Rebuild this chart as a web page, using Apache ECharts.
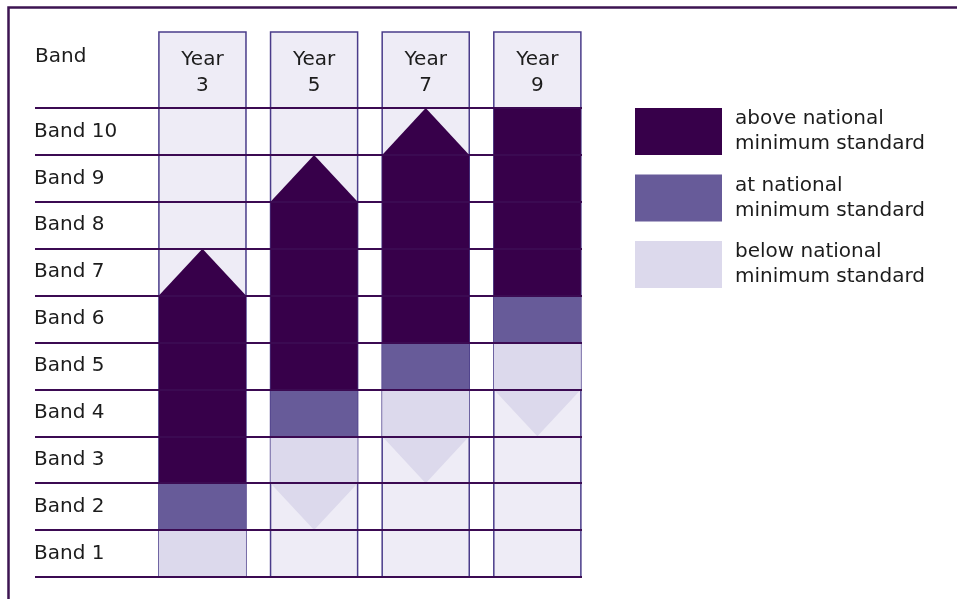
<!DOCTYPE html>
<html>
<head>
<meta charset="utf-8">
<script src="https://cdn.jsdelivr.net/npm/echarts@6/dist/echarts.min.js"></script>
<style>
html,body{margin:0;padding:0;background:#fff;}
#chart{width:957px;height:599px;}
</style>
</head>
<body>
<div id="chart"></div>
<script>
// ---- data ----
const years = ['Year 3', 'Year 5', 'Year 7', 'Year 9'];
const bands = ['Band 1', 'Band 2', 'Band 3', 'Band 4', 'Band 5', 'Band 6', 'Band 7', 'Band 8', 'Band 9', 'Band 10'];
const belowBands = [[0, 1], [2, 3], [3, 4], [4, 5]];
const belowArrowTips = [null, 1, 2, 3];
const atBands = [[1, 2], [3, 4], [4, 5], [5, 6]];
const aboveBands = [[2, 6], [4, 8], [5, 9], [6, 10]];
const aboveArrowTips = [7, 9, 10, null];
const legendNames = ['above national minimum standard', 'at national minimum standard', 'below national minimum standard'];

// ---- style ----
const FONT = 'DejaVu Sans';
const FS = 20;
const TEXT = '#1c1c1c';
const C_ABOVE = '#37004a';
const C_AT = '#675b99';
const C_BELOW = '#dcd9ec';
const C_COL = '#eeecf6';
const C_COLBORDER = '#4a3c8a';
const C_LINE = '#3b0a52';
const HALF = 0.39;
const HEADER_TOP = 11.62;
const HEADER_TEXT = 10.76;

function colX(i) { return i + 1.5; }

function shapeRenderer(ranges, tips, up, color) {
  return function (params, api) {
    const i = params.dataIndex;
    const lo = ranges[i][0], hi = ranges[i][1], tip = tips[i];
    const cx = colX(i);
    let pts;
    if (up) {
      pts = [[cx - HALF, lo], [cx - HALF, hi]];
      if (tip != null) pts.push([cx, tip]);
      pts.push([cx + HALF, hi], [cx + HALF, lo]);
    } else {
      pts = [[cx - HALF, hi], [cx + HALF, hi], [cx + HALF, lo]];
      if (tip != null) pts.push([cx, tip]);
      pts.push([cx - HALF, lo]);
    }
    return {
      type: 'polygon',
      shape: { points: pts.map(p => api.coord(p)) },
      style: { fill: color }
    };
  };
}

const chart = echarts.init(document.getElementById('chart'), null, { renderer: 'canvas' });

const option = {
  animation: false,
  backgroundColor: '#ffffff',
  grid: { left: 35, right: 375, top: 108, bottom: 22, containLabel: false },
  xAxis: { type: 'value', min: 0, max: 4.9, show: false },
  yAxis: [
    {
      type: 'value', min: 0, max: 10, interval: 1, z: 5,
      axisLine: { show: false }, axisTick: { show: false }, axisLabel: { show: false },
      splitLine: { show: true, showMinLine: true, showMaxLine: true, lineStyle: { color: C_LINE, width: 2 } }
    },
    {
      type: 'category', data: bands, boundaryGap: true, position: 'left',
      axisLine: { show: false }, axisTick: { show: false }, splitLine: { show: false },
      axisLabel: { inside: true, margin: -1, fontFamily: FONT, fontSize: FS, color: TEXT },
      name: 'Band', nameLocation: 'end', nameGap: 51,
      nameTextStyle: { align: 'left', verticalAlign: 'middle', fontFamily: FONT, fontSize: FS, color: TEXT }
    }
  ],
  legend: {
    data: legendNames, orient: 'vertical', left: 635, top: 106.5, padding: 0,
    itemWidth: 87, itemHeight: 47, itemGap: 16.5, icon: 'rect', selectedMode: false,
    formatter: n => n.replace(' minimum', '\nminimum'),
    textStyle: { fontFamily: FONT, fontSize: FS, color: TEXT, lineHeight: 25, padding: [0, 0, 0, 8] }
  },
  graphic: [{
    type: 'polyline', z: 10,
    shape: { points: [[957, 7.5], [8.5, 7.5], [8.5, 599]] },
    style: { stroke: '#3d1452', lineWidth: 2.5, fill: null }
  }],
  series: [
    {
      type: 'custom', name: 'columns', z: 1, clip: false,
      data: years.map((y, i) => [colX(i), 0]),
      renderItem: function (params, api) {
        const i = params.dataIndex;
        const cx = colX(i);
        const tl = api.coord([cx - HALF, HEADER_TOP]);
        const br = api.coord([cx + HALF, 0]);
        const tp = api.coord([cx, HEADER_TEXT]);
        return {
          type: 'group',
          children: [
            { type: 'rect', shape: { x: tl[0], y: tl[1], width: br[0] - tl[0], height: br[1] - tl[1] },
              style: { fill: C_COL, stroke: C_COLBORDER, lineWidth: 1.5 } },
            { type: 'text', x: tp[0], y: tp[1],
              style: { text: years[i].replace(' ', '\n'), fontFamily: FONT, fontSize: FS, fill: TEXT,
                       align: 'center', verticalAlign: 'middle', lineHeight: 26 } }
          ]
        };
      }
    },
    {
      type: 'custom', name: legendNames[0], z: 2, clip: false,
      itemStyle: { color: C_ABOVE },
      data: aboveBands.map((b, i) => [colX(i), b[0], b[1]]),
      renderItem: shapeRenderer(aboveBands, aboveArrowTips, true, C_ABOVE)
    },
    {
      type: 'custom', name: legendNames[1], z: 2, clip: false,
      itemStyle: { color: C_AT },
      data: atBands.map((b, i) => [colX(i), b[0], b[1]]),
      renderItem: shapeRenderer(atBands, [null, null, null, null], true, C_AT)
    },
    {
      type: 'custom', name: legendNames[2], z: 2, clip: false,
      itemStyle: { color: C_BELOW },
      data: belowBands.map((b, i) => [colX(i), b[0], b[1]]),
      renderItem: shapeRenderer(belowBands, belowArrowTips, false, C_BELOW)
    }
  ]
};
chart.setOption(option);
</script>
</body>
</html>
